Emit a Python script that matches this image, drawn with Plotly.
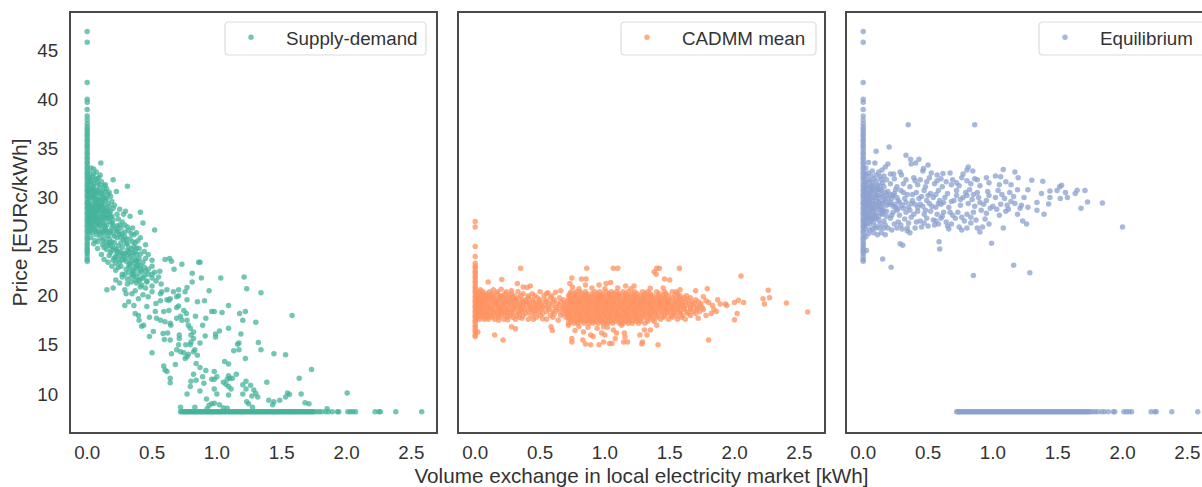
import plotly.graph_objects as go

SERIES = ["Supply-demand", "CADMM mean", "Equilibrium"]
COLORS = ["#44b39b", "#ff915f", "#8ba0cf"]
X_TICKS = [0.0, 0.5, 1.0, 1.5, 2.0, 2.5]
Y_TICKS = [10, 15, 20, 25, 30, 35, 40, 45]

zero_prices = [46.9, 45.8, 41.7, 40.0, 39.7, 38.96, 38.3, 37.9, 37.5, 37.2, 36.95, 36.7, 36.4, 36.2, 35.9, 35.7,
               35.4, 35.2, 34.9, 34.6, 34.4, 34.1, 33.9, 33.6, 33.4, 33.1, 32.9, 32.6, 32.4, 32.1, 31.9, 31.6,
               31.3, 31.1, 30.8, 30.6, 30.3, 30.1, 29.8, 29.5, 29.3, 29.0, 28.8, 28.5, 28.3, 28.0, 27.7, 27.5,
               27.2, 27.0, 26.7, 26.5, 26.2, 25.9, 25.7, 25.4, 25.2, 24.9, 24.7, 24.5, 24.3, 24.0, 23.7, 23.5]
floor_volumes = [0.72, 0.73, 0.74, 0.75, 0.76, 0.77, 0.78, 0.79, 0.8, 0.81, 0.82, 0.83, 0.84, 0.85, 0.86, 0.87, 0.88, 0.89,
                 0.9, 0.91, 0.92, 0.93, 0.94, 0.95, 0.96, 0.97, 0.98, 0.99, 1.0, 1.01, 1.02, 1.03, 1.04, 1.05, 1.06, 1.07,
                 1.08, 1.09, 1.1, 1.11, 1.12, 1.13, 1.14, 1.15, 1.16, 1.17, 1.18, 1.19, 1.2, 1.21, 1.22, 1.23, 1.24, 1.25,
                 1.26, 1.27, 1.28, 1.29, 1.3, 1.31, 1.32, 1.33, 1.34, 1.35, 1.36, 1.37, 1.38, 1.39, 1.4, 1.41, 1.42, 1.43,
                 1.44, 1.45, 1.46, 1.47, 1.48, 1.49, 1.5, 1.51, 1.52, 1.53, 1.54, 1.55, 1.56, 1.57, 1.58, 1.59, 1.6, 1.61,
                 1.62, 1.63, 1.64, 1.65, 1.66, 1.67, 1.68, 1.69, 1.7, 1.71, 1.72, 1.73, 1.74, 1.75,
                 1.77, 1.79, 1.81, 1.84, 1.86, 1.89, 1.93, 1.94, 2.01, 2.03, 2.05, 2.07, 2.22, 2.25, 2.26, 2.38, 2.58]
floor_price = 8.2

supply_points = [
    (0.105,33.5),(0.1,32.3),(0.2,31.8),(0.31,31.15),(0.05,32.9),(0.225,30.6),(0.16,30.3),(0.25,28.8),(0.41,28.5),
    (0.43,27.4),(0.52,26.7),(0.295,28.6),(0.33,28.1),(0.28,28.3),(0.13,31.2),(0.03,33.0),
    (0.02,32.5),(0.05,32.4),(0.07,32.6),(0.02,32.0),(0.04,32.1),(0.07,31.9),(0.09,32.0),
    (0.01,31.5),(0.03,31.6),(0.05,31.4),(0.08,31.5),(0.11,31.6),(0.14,31.3),
    (0.01,31.0),(0.03,30.9),(0.05,31.1),(0.07,30.8),(0.1,31.0),(0.12,30.7),(0.15,30.9),
    (0.01,30.5),(0.03,30.4),(0.05,30.6),(0.07,30.3),(0.09,30.5),(0.12,30.2),(0.14,30.6),(0.17,30.5),
    (0.01,30.0),(0.03,29.9),(0.05,30.1),(0.08,29.8),(0.1,30.0),(0.12,29.7),(0.15,29.9),(0.18,30.1),
    (0.01,29.5),(0.04,29.4),(0.06,29.6),(0.08,29.3),(0.11,29.5),(0.13,29.2),(0.16,29.4),(0.19,29.6),(0.21,29.2),
    (0.01,29.0),(0.03,28.9),(0.06,29.1),(0.08,28.8),(0.1,29.0),(0.13,28.7),(0.15,28.9),(0.18,28.6),(0.2,28.9),
    (0.02,28.5),(0.04,28.4),(0.07,28.6),(0.09,28.3),(0.12,28.4),(0.14,28.2),(0.17,28.4),(0.19,28.1),(0.23,28.3),
    (0.01,28.0),(0.03,27.9),(0.05,28.1),(0.08,27.8),(0.11,27.9),(0.13,27.7),(0.16,27.9),(0.2,27.7),(0.24,27.8),
    (0.01,27.5),(0.04,27.4),(0.06,27.6),(0.09,27.3),(0.12,27.4),(0.15,27.2),(0.19,27.4),(0.23,27.1),(0.27,27.5),
    (0.02,27.0),(0.05,26.9),(0.08,27.1),(0.11,26.8),(0.14,26.7),(0.18,26.6),(0.22,26.8),(0.26,26.9),(0.31,27.0),(0.35,26.9),
    (0.02,26.5),(0.04,26.4),(0.07,26.2),(0.12,26.5),(0.16,26.1),(0.2,26.3),(0.25,26.2),(0.29,26.5),(0.34,26.3),(0.38,26.4),
    (0.03,25.9),(0.06,25.6),(0.13,25.8),(0.19,25.5),(0.23,25.9),(0.28,25.7),(0.33,25.8),(0.37,25.4),(0.41,25.9),
    (0.05,25.3),(0.12,25.2),(0.17,25.4),(0.24,25.1),(0.3,25.3),(0.32,24.9),(0.36,25.0),(0.4,24.8),(0.45,25.2),
    (0.08,24.8),(0.15,24.7),(0.2,24.9),(0.25,24.5),(0.31,24.6),(0.35,24.4),(0.38,24.2),(0.44,24.5),
    (0.11,24.2),(0.17,24.1),(0.23,24.3),(0.28,24.0),(0.33,23.9),(0.37,23.7),(0.4,23.8),(0.47,24.2),(0.5,23.6),
    (0.13,23.7),(0.2,23.6),(0.25,23.4),(0.3,23.5),(0.36,23.3),(0.39,23.1),(0.43,23.4),(0.5,23.0),
    (0.19,23.0),(0.24,22.9),(0.3,22.7),(0.35,22.6),(0.38,22.8),(0.42,22.5),(0.47,22.7),(0.52,22.4),
    (0.22,22.6),(0.27,22.2),(0.32,22.4),(0.36,22.1),(0.4,22.3),(0.44,22.0),(0.5,22.2),(0.56,22.5),
    (0.27,21.9),(0.31,21.7),(0.34,21.9),(0.37,21.6),(0.41,21.7),(0.46,21.5),(0.5,21.8),(0.55,21.9),
    (0.22,21.6),(0.25,21.3),(0.31,21.2),(0.38,21.3),(0.42,21.1),(0.46,21.4),(0.5,21.0),(0.53,21.5),(0.57,21.2),
    (0.152,20.6),(1.21,21.9),(1.03,21.8),(1.23,20.7),(1.34,20.3),(0.94,20.5),(0.88,21.8),(0.81,22.3),(0.81,21.4),
    (0.86,23.4),(0.87,23.4),(0.73,23.2),(0.6,23.7),(0.635,23.8),(0.65,23.5),(0.67,22.7),(0.905,19.5),(0.85,19.4),
    (0.77,19.6),(1.09,19.0),(0.96,18.4),(0.98,18.4),(1.04,18.3),(1.175,18.2),(1.22,18.4),(1.58,18.0),(1.2,17.5),
    (1.3,17.3),(0.915,17.7),(0.89,17.0),(0.835,17.9),(1.09,16.7),(1.02,16.4),(0.99,16.1),(0.99,15.8),(1.185,16.1),
    (0.91,15.9),(0.87,15.2),(1.17,15.2),(1.16,15.05),(1.32,15.25),(1.34,14.5),(1.17,14.5),(1.13,14.4),(1.44,14.1),
    (1.53,14.0),(1.22,13.6),(1.06,13.3),(1.09,13.05),(0.84,13.1),(0.87,12.7),(1.73,12.5),(1.635,11.6),(0.915,12.4),
    (0.98,12.3),(1.15,12.0),(1.09,11.85),(1.1,11.6),(1.08,11.5),(1.05,11.2),(1.07,11.0),(1.09,10.75),(1.12,11.6),
    (0.98,11.5),(1.0,11.75),(0.96,11.5),(0.89,11.75),(0.9,11.1),(0.82,12.0),(0.84,11.4),(0.8,11.3),(0.795,10.75),
    (0.77,10.0),(0.87,10.3),(0.98,10.5),(1.0,10.0),(0.92,9.5),(1.11,10.5),(1.09,9.9),(1.225,11.3),(1.26,10.9),
    (1.2,10.95),(1.385,11.2),(1.285,10.4),(1.3,10.05),(1.315,9.7),(1.27,9.8),(1.2,10.0),(1.225,10.5),(1.545,10.1),
    (1.56,9.95),(1.53,9.7),(1.65,10.0),(2.005,10.1),(1.4,9.35),(1.44,9.2),(1.485,9.35),(1.43,8.9),(1.23,9.2),
    (1.245,9.0),(1.275,8.65),(1.68,9.1),(1.71,9.0),(0.96,9.0),(0.98,9.05),(1.02,8.9),(0.94,8.85),(0.72,8.65),
    (0.83,8.65),(0.925,8.5),(1.05,8.6),(1.08,8.55),(1.85,8.5),(0.59,12.85),(0.6,12.45),(0.615,12.3),(0.64,11.6),
    (0.64,11.15),(0.68,13.0),(0.5,14.2),(0.65,14.1),(0.69,14.5),(0.72,14.3),(0.745,14.2),(0.77,13.8),(0.755,13.6),
    (0.78,14.05),(0.83,14.5),(0.85,13.95),(0.82,14.3),(0.76,15.0),(0.795,15.0),(0.8,15.3),(0.82,15.65),(0.8,16.0),
    (0.82,16.3),(0.795,16.7),(0.78,17.0),(0.77,17.5),(0.73,17.5),(0.71,16.0),(0.71,15.65),(0.64,15.5),(0.595,15.55),
    (0.705,15.0),(0.48,15.85),(0.51,16.35),(0.585,16.15),(0.62,16.2),(0.645,17.0),(0.42,16.9),(0.435,17.0),(0.4,17.5),
    (0.395,18.0),(0.37,18.2),(0.36,19.0),(0.32,19.4),(0.29,19.0),(0.48,17.8),(0.525,18.4),(0.59,18.4),(0.63,18.5),
    (0.69,18.8),(0.705,18.95),(0.745,18.5),(0.765,18.2),(0.535,17.7),(0.565,17.5),(0.6,17.35),(0.64,17.2),(0.69,17.7),
    (0.72,17.9),(0.53,19.2),(0.565,19.5),(0.615,19.6),(0.64,19.7),(0.575,20.4),(0.565,20.2),(0.615,20.6),(0.665,20.4),
    (0.705,20.6),(0.77,20.85),(0.755,20.4),(0.705,20.0),(0.69,19.9),(0.63,19.55),(0.46,18.9),(0.395,19.7),(0.345,20.2),
    (0.29,20.6),(0.47,19.9),(0.2,20.8),(0.3,20.2),(0.37,20.5),(0.43,20.1),(0.5,20.4),(0.41,20.9),
]
supply_core_points = [
    (0.02,31.8),(0.04,31.2),(0.06,31.8),(0.09,31.3),(0.02,30.7),(0.04,30.75),(0.06,30.3),(0.08,30.65),(0.11,30.4),(0.13,30.0),
    (0.02,30.2),(0.04,30.05),(0.06,29.85),(0.07,29.45),(0.09,29.75),(0.11,29.2),(0.14,29.7),(0.17,29.1),(0.02,29.25),(0.04,29.05),
    (0.05,28.75),(0.07,28.85),(0.09,28.65),(0.11,28.6),(0.12,28.95),(0.14,28.55),(0.16,28.65),(0.02,28.15),(0.04,28.15),(0.06,28.3),
    (0.07,27.95),(0.09,28.05),(0.1,27.65),(0.12,28.1),(0.14,27.95),(0.16,28.2),(0.18,28.0),(0.02,27.75),(0.03,27.3),(0.05,27.75),
    (0.06,27.25),(0.08,27.55),(0.1,27.15),(0.13,27.2),(0.17,27.55),(0.2,27.2),(0.25,27.2),(0.29,27.2),(0.03,26.7),(0.06,26.7),
    (0.09,26.5),(0.13,26.3),(0.15,26.6),(0.19,26.9),(0.24,26.5),(0.27,26.3),(0.32,26.65),(0.36,26.2),(0.08,25.5),(0.1,25.9),
    (0.15,25.4),(0.17,25.8),(0.21,25.4),(0.26,25.4),(0.3,25.75),(0.35,25.5),(0.39,25.6),(0.13,24.9),(0.18,25.1),(0.22,24.75),
    (0.27,24.9),(0.29,24.3),(0.34,24.75),(0.38,24.85),(0.18,24.4),(0.22,24.0),(0.26,24.1),(0.31,24.15),(0.35,24.1),(0.41,24.25),
    (0.16,23.4),(0.22,23.3),(0.27,23.65),(0.33,23.3),(0.38,23.55),(0.41,23.05),(0.45,23.8),(0.33,22.9),(0.44,22.9),(0.36,22.5),
    (0.29,22.2),(0.35,22.2),(0.38,21.9),(0.43,21.8),(0.47,22.2),(0.34,21.4),(0.4,21.5),(0.45,20.8),
    (0.03,28.65),(0.06,28.55),(0.09,29.15),(0.03,27.05),(0.07,26.6),(0.1,26.3),(0.12,25.6),(0.16,25.15),(0.14,26.95),(0.17,26.4),
    (0.21,26.05),(0.23,26.6),(0.26,25.95),(0.29,26.0),(0.31,25.35),(0.19,24.6),(0.23,24.55),(0.27,24.35),(0.32,24.4),(0.37,24.5),
    (0.21,23.85),(0.24,23.75),(0.29,23.75),(0.34,23.55),(0.39,23.45),(0.26,23.0),(0.32,23.1),(0.37,22.95),(0.41,22.7),(0.45,22.5),
]

cadmm_zero_prices = [27.55, 27.0, 25.0, 24.0, 23.3, 23.0, 22.8, 22.5, 22.3, 22.0, 21.8, 21.5, 21.3, 21.0, 20.8, 20.5,
                     20.3, 20.0, 19.8, 19.5, 19.3, 19.0, 18.8, 18.5, 18.3, 18.0, 17.8, 17.5, 17.3, 17.0, 16.8, 16.5,
                     16.3, 16.0, 15.85]
cadmm_points = [
    (0.35,22.8),(0.86,22.8),(1.065,22.8),(1.1,22.8),(1.38,22.45),(1.4,22.8),(1.42,22.8),(1.395,22.2),(1.575,22.8),
    (2.05,22.0),(1.46,21.7),(1.5,21.6),(0.1,21.4),(0.205,21.65),(0.325,21.25),(0.425,21.0),(0.4,20.85),(0.37,20.9),
    (0.745,21.8),(0.82,21.7),(0.855,21.7),(0.73,21.25),(0.85,21.1),(0.955,21.1),(1.01,21.25),(1.045,21.35),(1.16,21.0),
    (1.225,21.0),(1.79,20.7),(1.7,20.5),(1.58,20.6),(2.26,20.55),(2.22,19.7),(2.27,19.8),(2.23,19.15),(2.4,19.25),
    (2.565,18.35),(2.0,17.55),(2.02,18.2),(2.07,19.3),(2.03,19.55),(2.0,19.3),(1.93,19.15),(1.94,19.0),(1.89,19.15),
    (1.87,19.6),(1.8,15.5),(1.41,15.0),(1.285,15.1),(1.29,15.3),(1.325,16.0),(1.35,16.5),(1.27,16.0),(1.305,16.5),
    (1.035,15.15),(1.055,15.15),(0.99,15.3),(0.955,15.0),(0.89,15.0),(0.85,15.1),(0.83,15.5),(0.745,15.3),(0.745,15.65),
    (1.145,15.3),(1.175,15.3),(1.155,15.8),(1.15,16.2),(1.08,15.65),(1.09,16.2),(1.065,16.5),(1.0,16.0),(0.975,16.2),
    (0.91,15.85),(0.89,16.0),(0.835,16.3),(0.77,16.45),(0.94,16.7),(0.99,16.85),(0.15,16.0),(0.215,15.5),(0.02,16.3),
    (0.28,16.85),(0.31,16.65),(0.585,16.85),(0.595,16.45),(0.72,17.0),(0.8,16.9),(0.87,16.8),(1.02,16.8),(1.4,17.0),
    (1.13,17.0),(0.75,20.9),(0.8,20.7),(0.9,20.8),(1.0,20.7),(1.1,20.8),(1.2,20.7),(1.35,20.75),(1.45,20.8),
    (0.04,20.6),(0.14,20.6),(0.2,20.65),(0.28,20.5),(0.5,20.4),(0.56,20.3),(0.62,20.35),(0.66,20.5),(1.55,20.4),
    (0.1,17.6),(0.18,17.5),(0.25,17.55),(0.36,17.7),(0.45,17.6),(0.52,17.65),(0.64,17.5),(1.62,17.6),(1.72,17.7),
    (1.78,18.0),(1.82,18.2),(1.84,18.6),(1.86,18.4),(1.83,19.0),(1.8,19.3),(1.78,19.5),(1.76,19.9),
]
cadmm_band_prices = [17.2, 17.4, 17.6, 17.8, 18.0, 18.2, 18.4, 18.6, 18.8, 19.0, 19.2, 19.4, 19.6, 19.8, 20.0, 20.2, 20.4]
cadmm_band_volumes = [
    [0.72, 0.76, 0.79, 0.84, 0.88, 0.91, 0.95, 0.99, 1.02, 1.06, 1.11, 1.14, 1.18, 1.21, 1.26, 1.31],
    [0.74, 0.78, 0.82, 0.86, 0.9, 0.93, 0.97, 1.0, 1.04, 1.08, 1.12, 1.16, 1.2, 1.24, 1.28, 1.33, 1.38],
    [0.03, 0.07, 0.15, 0.22, 0.31, 0.41, 0.55, 0.72, 0.75, 0.79, 0.82, 0.86, 0.89, 0.93, 0.96, 1.0, 1.03, 1.07, 1.1, 1.13, 1.17, 1.2, 1.24, 1.27, 1.33, 1.37, 1.43, 1.49, 1.56],
    [0.02, 0.06, 0.1, 0.13, 0.18, 0.25, 0.29, 0.34, 0.47, 0.6, 0.7, 0.73, 0.77, 0.81, 0.84, 0.88, 0.91, 0.95, 0.98, 1.02, 1.05, 1.09, 1.13, 1.16, 1.19, 1.23, 1.26, 1.3, 1.35, 1.4, 1.45, 1.52, 1.59],
    [0.02, 0.05, 0.09, 0.12, 0.16, 0.19, 0.23, 0.27, 0.32, 0.37, 0.43, 0.5, 0.58, 0.66, 0.71, 0.74, 0.78, 0.81, 0.85, 0.88, 0.92, 0.95, 0.99, 1.02, 1.05, 1.09, 1.12, 1.16, 1.19, 1.23, 1.26, 1.3, 1.34, 1.37, 1.41, 1.46, 1.51, 1.55, 1.6, 1.66],
    [0.03, 0.06, 0.08, 0.11, 0.14, 0.18, 0.21, 0.25, 0.29, 0.34, 0.39, 0.46, 0.52, 0.61, 0.68, 0.72, 0.76, 0.8, 0.83, 0.87, 0.9, 0.94, 0.97, 1.0, 1.04, 1.07, 1.1, 1.14, 1.17, 1.21, 1.24, 1.28, 1.32, 1.35, 1.39, 1.44, 1.48, 1.53, 1.58, 1.64, 1.7],
    [0.02, 0.04, 0.07, 0.1, 0.14, 0.17, 0.21, 0.25, 0.28, 0.33, 0.36, 0.41, 0.45, 0.49, 0.55, 0.6, 0.65, 0.7, 0.73, 0.77, 0.8, 0.84, 0.87, 0.91, 0.94, 0.98, 1.01, 1.04, 1.08, 1.11, 1.15, 1.18, 1.22, 1.25, 1.29, 1.32, 1.36, 1.39, 1.43, 1.47, 1.5, 1.54, 1.58, 1.63, 1.68, 1.73],
    [0.03, 0.05, 0.09, 0.12, 0.15, 0.19, 0.23, 0.26, 0.3, 0.35, 0.38, 0.43, 0.47, 0.51, 0.57, 0.63, 0.68, 0.71, 0.75, 0.79, 0.82, 0.86, 0.89, 0.93, 0.96, 1.0, 1.03, 1.06, 1.09, 1.13, 1.16, 1.2, 1.23, 1.27, 1.3, 1.34, 1.37, 1.41, 1.45, 1.48, 1.52, 1.56, 1.61, 1.66, 1.71, 1.76],
    [0.01, 0.05, 0.08, 0.11, 0.13, 0.18, 0.2, 0.24, 0.29, 0.32, 0.35, 0.4, 0.44, 0.48, 0.52, 0.56, 0.62, 0.67, 0.71, 0.75, 0.78, 0.82, 0.85, 0.89, 0.93, 0.96, 1.0, 1.03, 1.06, 1.1, 1.13, 1.17, 1.2, 1.24, 1.27, 1.31, 1.35, 1.38, 1.42, 1.45, 1.49, 1.53, 1.57, 1.61, 1.66, 1.71, 1.75],
    [0.03, 0.06, 0.09, 0.12, 0.16, 0.19, 0.22, 0.27, 0.31, 0.34, 0.37, 0.42, 0.46, 0.5, 0.54, 0.59, 0.65, 0.69, 0.73, 0.77, 0.8, 0.84, 0.87, 0.91, 0.94, 0.98, 1.01, 1.05, 1.08, 1.11, 1.15, 1.18, 1.22, 1.26, 1.29, 1.33, 1.36, 1.4, 1.43, 1.47, 1.51, 1.55, 1.59, 1.63, 1.68, 1.73],
    [0.02, 0.04, 0.07, 0.1, 0.15, 0.17, 0.22, 0.26, 0.3, 0.34, 0.38, 0.42, 0.47, 0.51, 0.57, 0.63, 0.69, 0.73, 0.76, 0.8, 0.83, 0.87, 0.9, 0.94, 0.97, 1.01, 1.04, 1.08, 1.12, 1.15, 1.19, 1.22, 1.25, 1.29, 1.33, 1.36, 1.4, 1.44, 1.48, 1.52, 1.56, 1.6, 1.65, 1.69, 1.74],
    [0.03, 0.05, 0.08, 0.13, 0.16, 0.2, 0.24, 0.28, 0.32, 0.37, 0.4, 0.45, 0.49, 0.55, 0.6, 0.66, 0.71, 0.74, 0.78, 0.81, 0.85, 0.88, 0.92, 0.95, 0.99, 1.02, 1.06, 1.09, 1.13, 1.16, 1.2, 1.23, 1.27, 1.3, 1.34, 1.38, 1.42, 1.46, 1.49, 1.54, 1.58, 1.62, 1.67, 1.72],
    [0.01, 0.03, 0.06, 0.09, 0.12, 0.16, 0.19, 0.23, 0.27, 0.31, 0.36, 0.39, 0.44, 0.5, 0.54, 0.61, 0.68, 0.72, 0.75, 0.79, 0.82, 0.86, 0.89, 0.93, 0.96, 0.99, 1.03, 1.06, 1.1, 1.14, 1.17, 1.21, 1.24, 1.28, 1.31, 1.35, 1.38, 1.42, 1.46, 1.5, 1.55, 1.59, 1.64, 1.7],
    [0.02, 0.04, 0.07, 0.11, 0.14, 0.18, 0.22, 0.25, 0.29, 0.33, 0.41, 0.48, 0.58, 0.65, 0.73, 0.77, 0.8, 0.83, 0.87, 0.9, 0.94, 0.97, 1.01, 1.04, 1.07, 1.11, 1.15, 1.18, 1.22, 1.25, 1.29, 1.32, 1.36, 1.4, 1.44, 1.47, 1.52, 1.57, 1.61, 1.66],
    [0.02, 0.05, 0.08, 0.11, 0.14, 0.19, 0.21, 0.26, 0.3, 0.35, 0.41, 0.46, 0.53, 0.59, 0.72, 0.76, 0.79, 0.84, 0.87, 0.91, 0.95, 0.98, 1.02, 1.05, 1.09, 1.12, 1.16, 1.19, 1.23, 1.27, 1.3, 1.34, 1.37, 1.41, 1.45, 1.49, 1.54, 1.58, 1.63],
    [0.03, 0.06, 0.09, 0.13, 0.17, 0.23, 0.28, 0.37, 0.44, 0.55, 0.73, 0.77, 0.82, 0.86, 0.9, 0.94, 0.98, 1.03, 1.07, 1.11, 1.16, 1.21, 1.25, 1.31, 1.35, 1.42, 1.47, 1.56],
    [0.03, 0.06, 0.11, 0.17, 0.24, 0.33, 0.74, 0.78, 0.81, 0.85, 0.92, 0.96, 1.01, 1.05, 1.09, 1.14, 1.18, 1.23, 1.29, 1.33, 1.4, 1.46, 1.52],
]

equilibrium_points = [
    (0.347,37.4),(0.86,37.4),(0.2,35.15),(0.1,34.7),(0.33,34.3),(0.365,33.9),(0.43,33.9),(0.405,33.5),(0.37,33.4),(0.5,33.3),
    (0.04,33.55),(0.09,33.5),(0.19,33.4),(0.17,33.1),(0.145,32.8),(0.12,32.6),(0.07,32.7),(0.465,32.95),(0.46,32.7),(0.285,32.6),
    (0.295,32.3),(0.235,32.4),(0.21,32.4),(0.525,32.5),(0.57,32.3),(0.615,32.45),(0.67,32.5),(0.81,33.1),(0.8,32.8),(0.845,32.7),
    (0.77,32.4),(1.08,32.85),(1.17,32.6),(1.195,32.0),(1.3,31.75),(1.385,31.65),(1.53,31.25),(1.515,31.1),(1.495,30.7),(1.44,30.65),
    (1.56,30.5),(1.575,30.0),(1.52,29.9),(1.44,30.0),(1.65,30.75),(1.635,30.4),(1.71,30.7),(1.73,29.55),(1.68,28.9),(1.845,29.45),
    (2.0,27.0),(1.375,30.4),(1.395,28.3),(1.34,29.5),(1.34,28.7),(1.43,29.35),(1.16,23.1),(1.285,22.35),(0.85,22.05),(0.215,22.9),
    (0.15,23.75),(0.585,25.5),(0.59,24.75),(0.99,25.35),(0.285,25.3),(0.305,25.15),(0.025,24.6),(1.08,26.9),(1.23,27.6),(1.26,27.3),
    (0.02,26.0),(0.04,26.3),(0.07,26.8),(0.1,26.9),(0.13,26.9),(0.16,26.9),(0.19,26.9),(0.22,26.7),(0.26,26.9),(0.3,26.8),
    (0.34,26.9),(0.4,26.9),(0.45,27.0),(0.5,27.1),(0.55,27.2),(0.58,27.3),(0.65,27.1),(0.68,27.3),(0.74,27.0),(0.8,26.9),
    (0.88,26.9),(0.92,27.0),(0.97,27.3),(0.9,26.5),(0.76,26.7),(0.66,26.8),(0.36,26.4),(0.34,26.6),
    (0.05,27.3),(0.08,27.5),(0.12,27.7),(0.16,27.6),(0.21,27.9),(0.27,27.5),(0.32,27.8),(0.37,28.0),(0.44,27.6),(0.49,27.9),
    (0.54,27.7),(0.6,27.9),(0.64,27.5),(0.71,27.9),(0.78,27.6),(0.83,28.0),(0.87,27.7),(0.94,27.8),
    (0.09,28.2),(0.14,28.4),(0.18,28.1),(0.23,28.5),(0.28,28.2),(0.33,28.5),(0.39,28.3),(0.42,28.6),(0.47,28.3),(0.52,28.6),
    (0.57,28.3),(0.62,28.5),(0.69,28.2),(0.73,28.5),(0.8,28.3),(0.85,28.5),(0.91,28.7),(0.98,28.9),(1.03,28.8),(1.12,28.8),(1.21,28.9),(1.27,29.0),
    (0.06,28.9),(0.11,29.1),(0.15,28.9),(0.2,29.3),(0.25,29.0),(0.3,29.2),(0.35,29.0),(0.4,29.3),(0.46,29.1),(0.51,29.4),
    (0.56,29.0),(0.6,29.3),(0.66,29.0),(0.75,29.2),(0.81,29.4),(0.86,29.1),(0.93,29.3),(1.0,29.1),(1.06,29.3),(1.11,29.2),(1.17,29.4),(1.22,29.2),
    (0.07,29.7),(0.12,29.9),(0.17,29.6),(0.22,29.9),(0.27,29.7),(0.32,29.9),(0.38,29.7),(0.43,29.9),(0.49,29.7),(0.54,30.0),
    (0.59,29.7),(0.63,30.0),(0.7,29.7),(0.77,30.0),(0.84,29.8),(0.89,30.0),(0.95,29.7),(1.02,30.0),(1.09,29.9),(1.14,29.6),(1.24,30.0),
    (0.05,30.4),(0.1,30.6),(0.14,30.3),(0.19,30.6),(0.24,30.4),(0.29,30.7),(0.34,30.3),(0.41,30.5),(0.47,30.7),(0.52,30.4),
    (0.58,30.7),(0.65,30.4),(0.72,30.7),(0.79,30.5),(0.82,30.8),(0.88,30.5),(0.96,30.6),(1.04,30.7),(1.13,30.5),(1.19,30.8),(1.27,30.8),
    (0.06,31.1),(0.11,31.3),(0.16,31.1),(0.21,31.4),(0.26,31.1),(0.31,31.4),(0.36,31.1),(0.42,31.3),(0.48,31.1),(0.55,31.4),
    (0.61,31.1),(0.68,31.3),(0.74,31.2),(0.83,31.4),(0.9,31.2),(0.97,31.5),(1.05,31.3),(1.1,31.6),
    (0.08,31.9),(0.13,32.1),(0.18,31.8),(0.24,31.9),(0.33,31.8),(0.39,32.0),(0.44,31.8),(0.51,32.0),(0.6,31.9),(0.69,31.8),
    (0.76,32.0),(0.86,31.9),(0.95,32.0),(1.02,32.2),(1.06,32.1),
    (0.02,26.8),(0.02,27.4),(0.04,27.9),(0.02,28.3),(0.05,28.5),(0.03,28.8),(0.02,29.2),(0.04,29.5),(0.02,29.9),(0.04,30.2),
    (0.02,30.6),(0.03,31.0),(0.02,31.4),(0.04,31.8),(0.02,32.2),(0.04,32.5),(0.02,33.0),(0.08,28.7),(0.09,29.3),(0.09,30.0),
    (0.07,30.9),(0.13,29.4),(0.14,28.7),(0.16,29.8),(0.13,30.8),(0.18,30.2),(0.1,27.9),(0.07,28.1),(0.11,30.2),(0.15,31.5),
    (0.05,29.8),(0.06,27.6),(0.08,26.4),(0.11,26.2),(0.14,26.4),(0.17,26.2),
]
equilibrium_core_points = [
    (0.01,27.1),(0.03,27.3),(0.05,26.7),(0.01,27.7),(0.03,28.1),(0.06,28.0),(0.08,27.9),(0.04,28.4),(0.07,28.5),(0.1,28.4),
    (0.12,28.1),(0.15,28.3),(0.18,28.6),(0.01,28.6),(0.03,29.0),(0.05,29.1),(0.07,28.9),(0.09,28.9),(0.12,28.8),(0.16,28.6),
    (0.01,29.5),(0.03,29.4),(0.05,29.5),(0.07,29.3),(0.1,29.6),(0.13,29.0),(0.15,29.4),(0.18,29.2),(0.21,29.5),(0.24,29.3),
    (0.01,30.0),(0.03,29.8),(0.05,30.1),(0.07,30.0),(0.1,30.2),(0.12,29.6),(0.15,30.1),(0.19,29.9),(0.23,30.2),(0.26,30.0),
    (0.01,30.4),(0.03,30.5),(0.06,30.6),(0.08,30.4),(0.11,30.8),(0.14,30.7),(0.17,30.5),(0.21,30.3),(0.01,31.0),(0.04,31.1),
    (0.06,30.8),(0.08,31.2),(0.1,31.0),(0.13,31.2),(0.02,31.6),(0.05,31.6),(0.07,31.5),(0.1,31.7),(0.14,31.8),(0.02,32.4),
    (0.06,32.2),(0.1,32.3),(0.16,32.2),(0.02,27.9),(0.05,27.8),(0.09,27.1),(0.13,27.3),(0.17,27.2),(0.24,27.3),(0.29,27.2),
    (0.22,28.2),(0.26,28.7),(0.31,28.9),(0.36,28.7),(0.28,29.5),(0.33,29.5),(0.38,30.3),(0.31,30.5),(0.25,30.8),(0.44,29.3),
    (0.27,28.9),(0.23,29.1),(0.37,29.4),(0.42,29.0),(0.48,28.7),(0.53,29.1),(0.58,29.4),(0.45,30.1),(0.5,30.2),(0.56,30.3),
    (0.62,29.5),(0.68,29.6),(0.72,30.2),(0.75,29.8),(0.8,30.2),(0.85,30.3),(0.9,29.5),(0.97,30.2),(1.07,30.3),(1.16,30.1),
    (0.35,27.4),(0.41,27.5),(0.47,27.4),(0.56,27.6),(0.61,28.1),(0.67,28.5),(0.76,28.0),(0.83,27.4),(0.95,28.4),(1.05,28.2),
    (1.1,28.6),(1.19,28.3),(0.4,31.7),(0.49,31.6),(0.57,31.7),(0.64,31.6),(0.72,31.5),(0.8,31.7),(0.88,31.8),(1.14,31.3),
]

PANEL_W = 365
GAP = 23
LEFT, TOP, BOTTOM = 71, 13, 432
FIG_W, FIG_H = 1232, 487
PLOT_W = 3 * PANEL_W + 2 * GAP
MARGIN_R = FIG_W - LEFT - PLOT_W
X_RANGE = [-0.125, 2.69]
Y_RANGE = [6.13, 48.78]

supply_all = supply_points + supply_core_points
supply_x = [0.0] * len(zero_prices) + floor_volumes + [p[0] for p in supply_all]
supply_y = zero_prices + [floor_price] * len(floor_volumes) + [p[1] for p in supply_all]
cadmm_x = [0.0] * len(cadmm_zero_prices) + [p[0] for p in cadmm_points]
cadmm_y = cadmm_zero_prices + [p[1] for p in cadmm_points]
for price, vols in zip(cadmm_band_prices, cadmm_band_volumes):
    cadmm_x += vols
    cadmm_y += [price] * len(vols)
eq_all = equilibrium_points + equilibrium_core_points
eq_x = [0.0] * len(zero_prices) + floor_volumes + [p[0] for p in eq_all]
eq_y = zero_prices + [floor_price] * len(floor_volumes) + [p[1] for p in eq_all]

FONT = "Liberation Sans"
TEXT = "#333333"
FRAME = "#4a4a4a"
fig = go.Figure()
for i, (name, xs, ys) in enumerate(zip(SERIES, [supply_x, cadmm_x, eq_x], [supply_y, cadmm_y, eq_y])):
    s = "" if i == 0 else str(i + 1)
    fig.add_trace(go.Scatter(x=xs, y=ys, mode="markers", name=name, xaxis="x" + s, yaxis="y" + s,
                             legend="legend" + s,
                             marker=dict(color=COLORS[i], size=5.5, opacity=0.75, line=dict(width=0))))

layout = dict(width=FIG_W, height=FIG_H, autosize=False, paper_bgcolor="white", plot_bgcolor="white",
              margin=dict(l=LEFT, r=MARGIN_R, t=TOP, b=FIG_H - BOTTOM, pad=0),
              font=dict(family=FONT, size=18.8, color=TEXT), shapes=[], showlegend=True)
BOX_LEFT = [225, 621, 1039]
BOX_RIGHT = [426, 816, 1206]
to_x = lambda p: (p - LEFT) / PLOT_W
to_y = lambda p: 1 - (p - TOP) / (BOTTOM - TOP)
for i in range(3):
    s = "" if i == 0 else str(i + 1)
    x0 = (i * (PANEL_W + GAP)) / PLOT_W
    x1 = (i * (PANEL_W + GAP) + PANEL_W) / PLOT_W
    layout["xaxis" + s] = dict(domain=[x0, x1], range=X_RANGE, tickvals=X_TICKS, ticktext=[f"{v:.1f}" for v in X_TICKS],
                               showgrid=False, zeroline=False, showline=True, mirror=True, linecolor=FRAME, linewidth=2,
                               ticks="outside", ticklen=2, tickcolor="rgba(0,0,0,0)", anchor="y" + s, automargin=False)
    layout["yaxis" + s] = dict(domain=[0, 1], range=Y_RANGE, tickvals=Y_TICKS, showticklabels=(i == 0),
                               showgrid=False, zeroline=False, showline=True, mirror=True, linecolor=FRAME, linewidth=2,
                               ticks="outside" if i == 0 else "", ticklen=7, tickcolor="rgba(0,0,0,0)", anchor="x" + s, automargin=False)
    px0, px1 = BOX_LEFT[i], BOX_RIGHT[i]
    layout["legend" + s] = dict(x=to_x(px0 - 9), xanchor="left", y=to_y(18.5), yanchor="top", bgcolor="rgba(0,0,0,0)", borderwidth=0,
                                itemwidth=60, itemclick=False, font=dict(family=FONT, size=18.8, color=TEXT))
    r = 4
    path = (f"M {to_x(px0 + r)} {to_y(22)} L {to_x(px1 - r)} {to_y(22)} Q {to_x(px1)} {to_y(22)} {to_x(px1)} {to_y(22 + r)} "
            f"L {to_x(px1)} {to_y(55 - r)} Q {to_x(px1)} {to_y(55)} {to_x(px1 - r)} {to_y(55)} "
            f"L {to_x(px0 + r)} {to_y(55)} Q {to_x(px0)} {to_y(55)} {to_x(px0)} {to_y(55 - r)} "
            f"L {to_x(px0)} {to_y(22 + r)} Q {to_x(px0)} {to_y(22)} {to_x(px0 + r)} {to_y(22)} Z")
    layout["shapes"].append(dict(type="path", xref="paper", yref="paper", path=path,
                                 line=dict(color="#dddddd", width=1.2), fillcolor="rgba(255,255,255,0.8)"))
layout["xaxis2"]["title"] = dict(text="Volume exchange in local electricity market [kWh]", font=dict(size=20.7), standoff=12)
layout["yaxis"]["title"] = dict(text="Price [EURc/kWh]", font=dict(size=21), standoff=4)
fig.update_layout(**layout)

fig.write_html("out.html", config={"displayModeBar": False},
               post_script="document.body.style.margin='0';document.documentElement.style.overflow='hidden';document.body.style.overflow='hidden';")
